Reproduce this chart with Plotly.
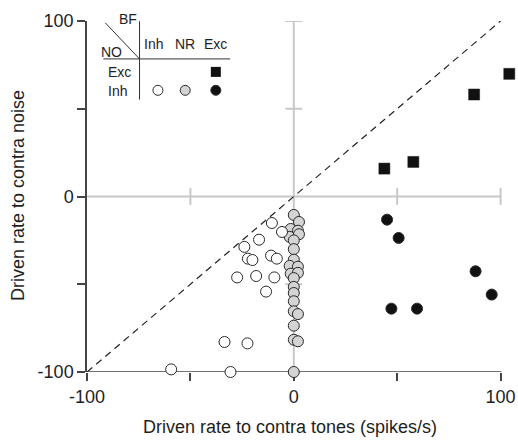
import plotly.graph_objects as go

# Exc BF / Exc NO (filled squares)
exc_exc_x = [104.2, 87.2, 57.8, 43.8]
exc_exc_y = [69.9, 58.1, 19.7, 15.9]

# Exc BF / Inh NO (filled circles)
exc_inh_x = [45.1, 50.7, 87.9, 95.7, 47.2, 59.6]
exc_inh_y = [-13.2, -23.6, -42.6, -55.9, -63.9, -63.9]

# Inh BF / Inh NO (open circles)
inh_inh_x = [-10.6, -5.7, -16.8, -23.9, -22.2, -20.0, -11.0, -8.2, -27.4, -18.2,
             -9.4, -13.4, -33.5, -22.4, -59.3, -30.6]
inh_inh_y = [-15.1, -20.2, -24.6, -28.7, -35.4, -36.2, -33.7, -35.4, -46.1, -45.3,
             -46.1, -54.2, -82.9, -83.7, -98.5, -100.0]

# NR BF / Inh NO (gray circles)
nr_inh_x = [0.0, 2.5, -1.5, 2.0, -2.0, 2.5, 0.0, 0.0, 0.0, -2.0, 2.0, -1.5, 2.0,
            0.0, 0.0, 0.0, 0.0, 0.0, 2.0, 0.0, 0.0, 2.0, 0.0]
nr_inh_y = [-10.5, -14.5, -18.5, -19.5, -23.0, -21.5, -25.0, -30.0, -36.0, -39.5,
            -40.0, -44.0, -43.5, -46.5, -51.5, -55.0, -59.7, -65.4, -67.0, -73.6,
            -81.6, -82.5, -100.0]

# diagonal reference (unity line)
unity = [-100, 100]

tick_vals = [-100, -50, 0, 50, 100]
tick_text = ["-100", "", "0", "", "100"]

# legend-table symbol positions
leg_sq_x = [-37.7]
leg_sq_y = [71.0]
leg_circ_x = [-65.7, -52.5, -37.7]
leg_circ_y = [60.5, 60.5, 60.5]
leg_circ_fill = ["white", "#d4d4d4", "#111111"]

FONT = "Liberation Sans, Arial, sans-serif"
INK = "#1e1e1e"
AX = "#444444"
GRAY = "#c8c8c8"

W, H = 518, 440
L, R, T, B = 87, 5, 21, 68
PW, PH = W - L - R, H - T - B

def px2paper(px, py):
    return (px - L) / PW, (H - B - py) / PH

fig = go.Figure()

fig.add_trace(go.Scatter(x=unity, y=unity, mode="lines",
                         line=dict(color="#222222", width=1.2, dash="7px,5px"),
                         hoverinfo="skip", cliponaxis=False))

mk_line = dict(color="#2a2a2a", width=1)
fig.add_trace(go.Scatter(x=nr_inh_x, y=nr_inh_y, mode="markers",
                         marker=dict(symbol="circle", size=11, color="#d4d4d4", line=mk_line),
                         cliponaxis=False))
fig.add_trace(go.Scatter(x=inh_inh_x, y=inh_inh_y, mode="markers",
                         marker=dict(symbol="circle", size=11, color="white", line=mk_line),
                         cliponaxis=False))
fig.add_trace(go.Scatter(x=exc_inh_x, y=exc_inh_y, mode="markers",
                         marker=dict(symbol="circle", size=11, color="#111111", line=mk_line),
                         cliponaxis=False))
fig.add_trace(go.Scatter(x=exc_exc_x, y=exc_exc_y, mode="markers",
                         marker=dict(symbol="square", size=11, color="#111111", line=dict(color="#111111", width=0.5)),
                         cliponaxis=False))

# legend table symbols
fig.add_trace(go.Scatter(x=leg_sq_x, y=leg_sq_y, mode="markers",
                         marker=dict(symbol="square", size=10, color="#111111", line=dict(width=0)),
                         cliponaxis=False))
fig.add_trace(go.Scatter(x=leg_circ_x, y=leg_circ_y, mode="markers",
                         marker=dict(symbol="circle", size=10, color=leg_circ_fill, line=mk_line),
                         cliponaxis=False))

shapes = []
# gray crosshair
shapes.append(dict(type="line", x0=0, x1=0, y0=-100, y1=100, line=dict(color=GRAY, width=2), layer="below"))
shapes.append(dict(type="line", x0=-100, x1=100, y0=0, y1=0, line=dict(color=GRAY, width=2), layer="below"))
for yv in [-50, 50, 100]:
    shapes.append(dict(type="line", x0=-4.1, x1=4.1, y0=yv, y1=yv, line=dict(color=GRAY, width=2), layer="below"))
for xv in [-50, 50, 100]:
    shapes.append(dict(type="line", x0=xv, x1=xv, y0=-4.8, y1=4.8, line=dict(color=GRAY, width=2), layer="below"))
# bottom axis line only from -100 to 100
shapes.append(dict(type="line", x0=-100.4, x1=100.4, y0=-100, y1=-100, line=dict(color=AX, width=1.5), layer="below"))
# legend table lines
TL = dict(color="#333333", width=1)
shapes.append(dict(type="line", x0=-91.2, y0=99.0, x1=-74.6, y1=78.4, line=TL))
shapes.append(dict(type="line", x0=-74.6, y0=99.9, x1=-74.6, y1=55.2, line=TL))
shapes.append(dict(type="line", x0=-92.1, y0=78.4, x1=-30.8, y1=78.4, line=TL))

ann = []
def ptxt(px, py, s, size=14, angle=0):
    xp, yp = px2paper(px, py)
    ann.append(dict(x=xp, y=yp, text=s, showarrow=False, xref="paper", yref="paper",
                    xanchor="center", yanchor="middle", textangle=angle,
                    font=dict(family=FONT, size=size, color=INK)))

ptxt(128, 19, "BF")
ptxt(111, 52, "NO")
ptxt(153, 43.5, "Inh")
ptxt(185, 43.5, "NR")
ptxt(215, 43.5, "Exc")
ptxt(119, 71.5, "Exc")
ptxt(117, 90.5, "Inh")

ptxt(290, 427, "Driven rate to contra tones (spikes/s)", size=18)
ptxt(18, 196, "Driven rate to contra noise", size=18, angle=-90)

fig.update_layout(
    template="none",
    width=W, height=H, margin=dict(l=L, r=R, t=T, b=B, autoexpand=False),
    paper_bgcolor="white", plot_bgcolor="white",
    showlegend=False, shapes=shapes, annotations=ann,
    font=dict(family=FONT, size=18, color=INK),
)
axis_common = dict(tickvals=tick_vals, ticktext=tick_text, showgrid=False, zeroline=False,
                   ticks="outside", ticklen=8, tickcolor=AX, tickwidth=1.5, automargin=False,
                   tickfont=dict(family=FONT, size=18, color=INK), layer="below traces")
fig.update_xaxes(range=[-100, 106], showline=False, **axis_common)
fig.update_yaxes(range=[-100, 100], showline=True, linecolor=AX, linewidth=1.5, **axis_common)

fig.write_html("out.html")
